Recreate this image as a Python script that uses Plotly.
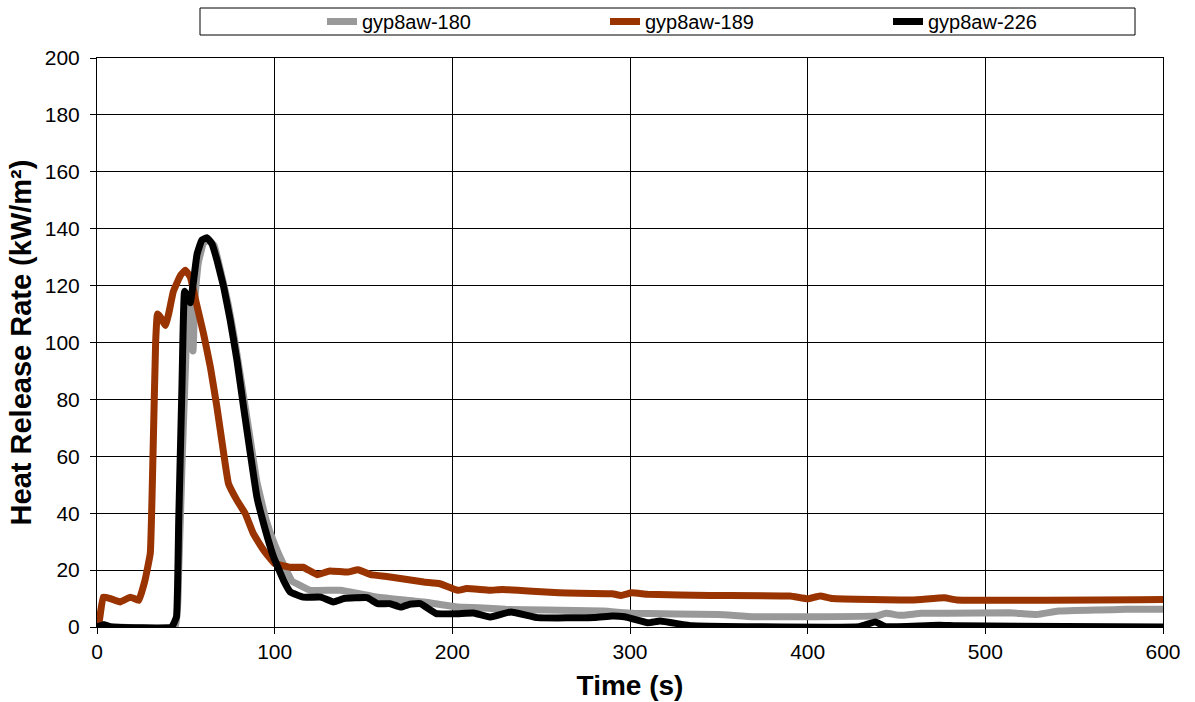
import plotly.graph_objects as go

# Heat release rate curves, time in seconds, HRR in kW/m²
t_180 = [0, 3, 6, 44, 46, 48, 50, 51, 52.5, 54, 55, 57, 60, 63, 66, 70, 74, 78, 82, 86, 90, 95,
         100, 105, 110, 112.6, 120, 137, 158, 184, 203, 215, 230, 253, 285, 302, 350, 370, 439,
         444, 452, 464, 479, 514, 529, 541, 564, 579, 600]
hrr_180 = [0, 1, 0.3, 0, 20, 60, 95, 117, 100, 97, 115, 128, 135, 136, 134, 124, 113, 99, 83, 67,
           51, 38, 29, 22, 16, 15.2, 12.9, 12.9, 10.5, 8.8, 7, 6.8, 6.2, 6, 5.6, 4.8, 4.4, 3.6,
           3.9, 4.8, 4.1, 4.8, 4.8, 5, 4.4, 5.6, 6, 6.2, 6.2]

t_189 = [0, 1, 3.5, 7.5, 13, 18.8, 23.5, 27, 30, 31.5, 33, 34, 35.6, 38.5, 40.3, 43, 47, 49.7,
         52.5, 56, 60, 63.8, 67.5, 71.3, 74, 78.8, 83.5, 88, 93.8, 100, 108.8, 116, 124, 131, 141,
         147, 154, 165, 184, 193, 203, 208, 221, 228, 245, 260, 290, 295, 301, 310, 345, 390, 400,
         407, 414, 459, 477, 484, 600]
hrr_189 = [0, 1, 10.5, 10, 8.8, 10.5, 9.4, 16.4, 26, 60, 100, 110, 109, 106, 110, 118, 123.6,
           125.4, 123, 113.6, 103, 91.4, 77.3, 61, 50.4, 44.5, 39.8, 32.8, 27, 22.3, 21, 21, 18.4,
           19.7, 19.3, 20.1, 18.4, 17.6, 15.8, 15.2, 12.9, 13.5, 12.9, 13.2, 12.6, 12, 11.7, 11.1,
           12, 11.5, 11.1, 10.9, 9.9, 10.9, 10, 9.5, 10.3, 9.5, 9.7]

t_226 = [0, 3.75, 8, 42, 44.7, 46, 47.8, 49.3, 51, 52.5, 54.4, 56.3, 59, 62, 64.7, 67.5, 71.3, 75,
         78.8, 82.5, 86.3, 90, 93.8, 99.4, 105, 108.8, 116, 126, 133, 139, 152, 158, 165, 171, 176,
         182, 191, 203, 212, 221, 233, 248, 280, 290, 297, 310, 317, 335, 365, 429, 438, 444, 474,
         484, 600]
hrr_226 = [0, 0.8, 0, 0, 3.5, 37.5, 84, 118, 116, 114, 122, 131, 136, 136.8, 134.7, 129, 119.5,
           107.8, 93.7, 77.3, 61, 45.7, 36.3, 24.6, 16.4, 12.3, 10.5, 10.5, 8.8, 10, 10.3, 8.2, 8.2,
           7, 8, 8.2, 4.7, 4.7, 4.9, 3.5, 5.3, 3.3, 3.3, 3.9, 3.6, 1.5, 2.1, 0.4, 0.1, 0.1, 1.8, 0.1,
           0.6, 0.4, 0]

x_ticks = [0, 100, 200, 300, 400, 500, 600]
y_ticks = [0, 20, 40, 60, 80, 100, 120, 140, 160, 180, 200]

FONT = "Arial, Liberation Sans, sans-serif"
W, H = 1195, 702
M_L, M_R, M_T, M_B = 97, 32, 58, 75
PW, PH = W - M_L - M_R, H - M_T - M_B


def px_to_paper_x(px):
    return (px - M_L) / PW


def px_to_paper_y(py):
    return (H - M_B - py) / PH


fig = go.Figure()
for name, t, v, color in [
    ("gyp8aw-180", t_180, hrr_180, "#999999"),
    ("gyp8aw-189", t_189, hrr_189, "#993300"),
    ("gyp8aw-226", t_226, hrr_226, "#000000"),
]:
    fig.add_trace(go.Scatter(x=t, y=v, mode="lines", name=name,
                             line=dict(color=color, width=7, shape="spline", smoothing=0.3)))

axis_common = dict(showgrid=True, gridcolor="black", gridwidth=1, showline=True,
                   linecolor="black", linewidth=1, mirror=True, zeroline=False,
                   ticks="outside", ticklen=6, tickcolor="black",
                   tickfont=dict(family=FONT, size=21, color="black"))

fig.update_xaxes(range=[0, 600], tickvals=x_ticks,
                 title=dict(text="<b>Time (s)</b>", font=dict(family=FONT, size=28, color="black"),
                            standoff=13),
                 **axis_common)
fig.update_yaxes(range=[0, 200], tickvals=y_ticks, ticklabelstandoff=6,
                 title=dict(text="<b>Heat Release Rate (kW/m²)</b>",
                            font=dict(family=FONT, size=29, color="black"), standoff=4),
                 **axis_common)

# Legend frame across the top
fig.add_shape(type="rect", xref="paper", yref="paper",
              x0=px_to_paper_x(200), x1=px_to_paper_x(1135),
              y0=px_to_paper_y(35), y1=px_to_paper_y(8),
              line=dict(color="black", width=1), fillcolor="white", layer="below")

fig.update_layout(
    width=W, height=H,
    margin=dict(l=M_L, r=M_R, t=M_T, b=M_B, autoexpand=False),
    plot_bgcolor="white", paper_bgcolor="white",
    font=dict(family=FONT, color="black"),
    legend=dict(orientation="h", x=px_to_paper_x(322), xanchor="left",
                y=px_to_paper_y(21.5), yanchor="middle",
                bgcolor="rgba(0,0,0,0)", borderwidth=0,
                font=dict(family=FONT, size=20, color="black"),
                entrywidth=238, entrywidthmode="pixels"),
)

fig.write_html("out.html")
